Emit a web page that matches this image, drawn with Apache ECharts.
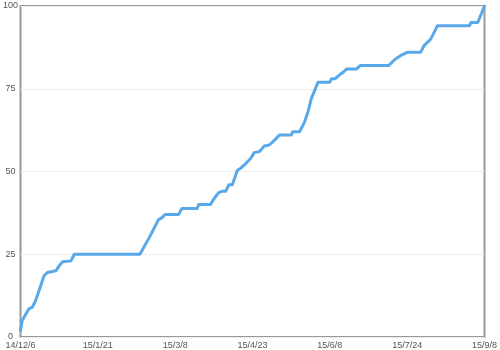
<!DOCTYPE html>
<html>
<head>
<meta charset="utf-8">
<script src="https://cdn.jsdelivr.net/npm/echarts@6/dist/echarts.min.js"></script>
<style>html,body{margin:0;padding:0;background:#fff}#c{width:500px;height:350px}</style>
</head>
<body>
<div id="c"></div>
<script>
// days since 2014-12-06
var days = [0,1,5,7,9,12,14,16,17,21,23,25,30,32,71,77,78,82,84,86,94,96,105,106,113,115,118,120,122,124,126,129,131,134,137,139,142,145,148,151,154,161,162,166,169,171,173,177,184,185,187,190,192,194,200,202,219,221,223,226,230,238,240,242,244,248,267,268,272,274,276];
var values = [2,5,8.5,9,11,15.5,18.5,19.5,20,20,21.5,22.7,23,25,25,30.4,31,35.4,36,37,37,38.8,38.8,40,40,41.7,43.7,44,44,46,46,50.4,51,52.4,54,55.7,56,57.7,58,59.4,61,61,62,62,65,68,72,77,77,78,78,79.3,80,81,81,82,82,83,84,85,86,86,88,89,90,94,94,95,95,97.5,100];
var yTicks = [0,25,50,75,100];
var startDate = Date.UTC(2014,11,6);
function dayLabel(d){
  var dt = new Date(startDate + d*86400000);
  return (dt.getUTCFullYear()%100) + '/' + (dt.getUTCMonth()+1) + '/' + dt.getUTCDate();
}
var data = days.map(function(d,i){return [d, values[i]];});
var chart = echarts.init(document.getElementById('c'));
chart.setOption({
  animation:false,
  grid:{left:20,right:13,top:6,bottom:10,show:true,borderColor:'#999',borderWidth:2,backgroundColor:'transparent'},
  xAxis:{type:'value',min:0,max:276,interval:46,
    axisLine:{show:false},axisTick:{show:false},splitLine:{show:false},
    axisLabel:{formatter:function(v){return dayLabel(v);},fontSize:9,color:'#555',margin:4,showMinLabel:true,showMaxLabel:true,fontFamily:'Liberation Sans, sans-serif'}},
  yAxis:{type:'value',min:0,max:100,interval:25,
    axisLine:{show:false},axisTick:{show:false},
    splitLine:{show:true,lineStyle:{color:'#eeeeee',width:1}},
    axisLabel:{fontSize:9,color:'#555',margin:10,align:'center',padding:[3,0,0,0],fontFamily:'Liberation Sans, sans-serif'}},
  series:[{type:'line',data:data,showSymbol:false,symbol:'none',
    lineStyle:{color:'#58a8ea',width:3,join:'round',cap:'round'}}]
});
</script>
</body>
</html>
